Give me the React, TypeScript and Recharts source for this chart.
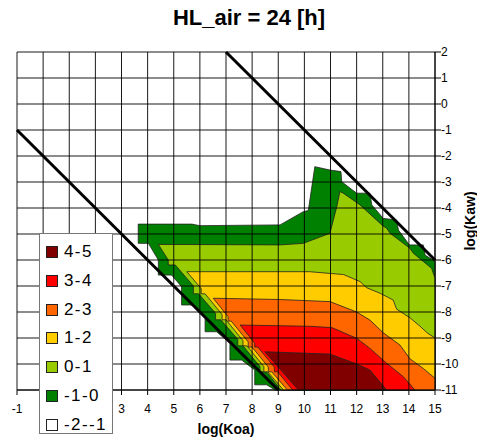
import React from "react";
import { ScatterChart, Scatter, XAxis, YAxis, CartesianGrid, ReferenceLine } from "recharts";

const xTicks = [-1, 0, 1, 2, 3, 4, 5, 6, 7, 8, 9, 10, 11, 12, 13, 14, 15];
const yTicks = [2, 1, 0, -1, -2, -3, -4, -5, -6, -7, -8, -9, -10, -11];
// these x tick labels sit under the legend box in the original
const coveredTicks = [0, 1, 2];

const bandLabels = ["4-5", "3-4", "2-3", "1-2", "0-1", "-1-0", "-2--1"];
const bandColors = ["#800000", "#FF0000", "#FF6600", "#FFCC00", "#99CC00", "#008000", "#FFFFFF"];

// contour outlines as [log(Koa), log(Kaw)]
const band_m1: [number, number][] = [
  [3.64, -4.62], [5.69, -4.62], [6.0, -4.68], [9.07, -4.65], [9.96, -4.14], [10.15, -4.1],
  [10.4, -2.41], [10.98, -2.54], [11.4, -2.6], [11.43, -2.99], [12.0, -3.43], [12.51, -3.43],
  [12.58, -3.88], [13.02, -4.4], [13.53, -4.46], [13.6, -4.85], [14.02, -5.42], [14.55, -5.42],
  [14.62, -5.81], [15, -6.05], [15, -11], [8.88, -11], [8.56, -10.8], [8.1, -10.8],
  [8.1, -10.23], [7.6, -9.85], [7.15, -9.85], [7.15, -9.2], [6.64, -8.76], [6.2, -8.76],
  [6.2, -8.18], [5.7, -7.73], [5.3, -7.73], [5.3, -7.03], [4.92, -6.58], [4.41, -6.58],
  [4.41, -6.0], [4.03, -5.36], [3.64, -5.36], [3.64, -4.62],
];
const band_0: [number, number][] = [
  [4.41, -5.4], [9.07, -5.42], [9.96, -5.36], [10.98, -4.97], [11.24, -3.95], [11.36, -3.37],
  [11.49, -3.43], [12.13, -3.88], [13.02, -4.7], [13.15, -4.78], [13.28, -4.97], [14.04, -5.55],
  [14.17, -5.74], [14.87, -6.32], [15, -6.7], [15, -11], [9.1, -11], [8.55, -10.3], [8.3, -10.3],
  [8.3, -10.1], [7.65, -9.3], [7.45, -9.3], [7.45, -9.05], [6.8, -8.3], [6.6, -8.3], [6.6, -8.05],
  [5.95, -7.3], [5.75, -7.3], [5.75, -7.0], [5.06, -6.19], [4.79, -6.19], [4.79, -6.0], [4.41, -5.4],
];
const band_1: [number, number][] = [
  [5.5, -6.45], [10.2, -6.45], [11.5, -6.56], [12.13, -6.83], [12.39, -7.07], [12.9, -7.28],
  [13.4, -7.54], [13.53, -7.89], [14.04, -8.22], [14.43, -8.55], [14.7, -8.8], [15, -9.0],
  [15, -11], [9.2, -11], [8.6, -10.3], [8.45, -10.3], [8.45, -10.1], [7.8, -9.3], [7.65, -9.3],
  [7.65, -9.1], [7.0, -8.3], [6.85, -8.3], [6.85, -8.1], [6.2, -7.3], [6.05, -7.3], [6.05, -7.1],
  [5.5, -6.45],
];
const band_2: [number, number][] = [
  [6.51, -7.47], [9.07, -7.52], [10.98, -7.6], [12.0, -8.0], [12.51, -8.31], [13.02, -8.8],
  [13.66, -9.27], [14.04, -9.8], [14.55, -10.17], [15, -10.55], [15, -11], [9.35, -11],
  [8.75, -10.3], [8.62, -10.3], [8.62, -10.12], [8.0, -9.35], [7.85, -9.35], [7.85, -9.15],
  [7.2, -8.35], [7.08, -8.35], [7.08, -8.18], [6.51, -7.47],
];
const band_3: [number, number][] = [
  [7.54, -8.5], [10.22, -8.55], [11.05, -8.6], [12.0, -9.01], [12.51, -9.4], [13.15, -9.97],
  [13.79, -10.49], [14.23, -11], [9.55, -11], [8.98, -10.3], [8.85, -10.3], [8.85, -10.12],
  [8.22, -9.35], [8.1, -9.35], [8.1, -9.2], [7.54, -8.5],
];
const band_4: [number, number][] = [
  [8.49, -9.53], [10.98, -9.62], [12.0, -10.0], [12.51, -10.23], [12.83, -10.62], [13.15, -11],
  [9.77, -11], [8.49, -9.53],
];

// the two black diagonals
const diagLow: [number, number][] = [[-1, -1], [9, -11]];
const diagHigh: [number, number][] = [[7, 2], [15, -6]];

const FONT = "'Liberation Sans', Arial, sans-serif";

const toPts = (arr: [number, number][]) => arr.map(([x, y]) => ({ x, y }));

const layers = [
  { pts: band_m1, color: bandColors[5] },
  { pts: band_0, color: bandColors[4] },
  { pts: band_1, color: bandColors[3] },
  { pts: band_2, color: bandColors[2] },
  { pts: band_3, color: bandColors[1] },
  { pts: band_4, color: bandColors[0] },
];

const NoDot = () => <g />;

const KoaLabel = (props: any) => {
  const vb = props.viewBox || {};
  return (
    <text x={vb.x + vb.width / 2} y={vb.y + 43.5} textAnchor="middle"
      style={{ fontFamily: FONT, fontSize: 14, fontWeight: "bold", fill: "#000" }}>
      log(Koa)
    </text>
  );
};

const KawLabel = (props: any) => {
  const vb = props.viewBox || {};
  const cx = vb.x + vb.width - 7;
  const cy = vb.y + vb.height / 2;
  return (
    <text x={cx} y={cy} transform={`rotate(-90 ${cx} ${cy})`} textAnchor="middle" dominantBaseline="central"
      style={{ fontFamily: FONT, fontSize: 14, fontWeight: "bold", fill: "#000" }}>
      log(Kaw)
    </text>
  );
};

export default function App() {
  return (
    <div style={{ position: "absolute", left: 0, top: 0, width: 477, height: 440, background: "#fff", fontFamily: FONT }}>
      <div style={{ position: "absolute", left: 0, top: 7, width: 498, textAlign: "center", fontSize: 22, lineHeight: "22px", fontWeight: "bold", color: "#000" }}>
        HL_air = 24 [h]
      </div>

      <ScatterChart width={477} height={440} margin={{ top: 52, right: 0, bottom: 0, left: 17 }}>
        <XAxis
          type="number" dataKey="x" domain={[-1, 15]} ticks={xTicks} interval={0}
          height={50} tickSize={5} tickMargin={9}
          axisLine={{ stroke: "#000" }} tickLine={{ stroke: "#000" }}
          tick={{ fontSize: 12, fill: "#000", fontFamily: FONT }}
          tickFormatter={(v: number) => (coveredTicks.includes(v) ? "" : String(v))}
          label={{ content: KoaLabel }}
        />
        <YAxis
          type="number" dataKey="y" orientation="right" domain={[-11, 2]} ticks={yTicks} interval={0}
          width={42} tickSize={6} tickMargin={0}
          axisLine={{ stroke: "#000" }} tickLine={{ stroke: "#000" }}
          tick={{ fontSize: 12, fill: "#000", fontFamily: FONT }}
          label={{ content: KawLabel }}
        />

        {layers.map((l, i) => (
          <Scatter
            key={i}
            data={toPts(l.pts)}
            fill={l.color}
            shape={NoDot}
            line={{ fill: l.color, stroke: "#222", strokeWidth: 0.8 }}
            lineJointType="linear"
            isAnimationActive={false}
          />
        ))}

        <CartesianGrid stroke="#000" strokeWidth={1} strokeOpacity={0.9} zIndex={650} />

        <ReferenceLine segment={toPts(diagLow)} stroke="#000" strokeWidth={3} zIndex={700} />
        <ReferenceLine segment={toPts(diagHigh)} stroke="#000" strokeWidth={3} zIndex={700} />
      </ScatterChart>

      <div style={{ position: "absolute", left: 39, top: 233, width: 74, height: 201, background: "#fff", border: "1px solid #777", boxSizing: "border-box" }}>
        {bandLabels.map((lab, i) => (
          <div key={lab} style={{ position: "absolute", left: 6, top: 12 + i * 28.75, height: 12, display: "flex", alignItems: "center" }}>
            <div style={{ width: 12, height: 12, background: bandColors[i], border: "1px solid #222", boxSizing: "border-box" }} />
            <span style={{ marginLeft: 6, fontSize: 17, letterSpacing: 1.4, color: "#000", lineHeight: "12px" }}>{lab}</span>
          </div>
        ))}
      </div>
    </div>
  );
}
